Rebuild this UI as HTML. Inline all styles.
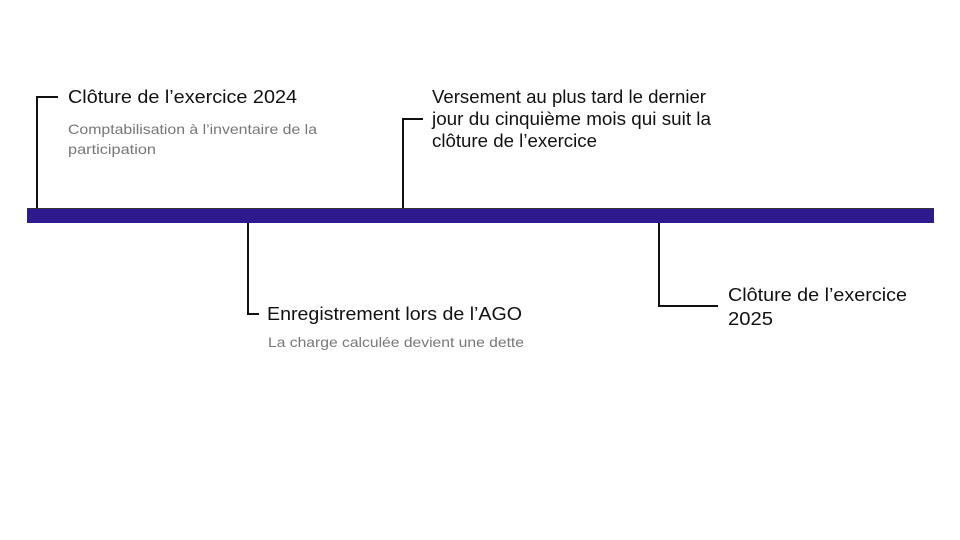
<!DOCTYPE html>
<html><head><meta charset="utf-8"><style>
html,body{margin:0;padding:0;background:#fff;}
svg{display:block;}
.t{font-family:"Liberation Sans",sans-serif;font-size:18px;fill:#111;}
.s{font-family:"Liberation Sans",sans-serif;font-size:14px;fill:#777;}
</style></head><body>
<svg width="960" height="540" viewBox="0 0 960 540" xmlns="http://www.w3.org/2000/svg">
<rect x="27" y="208" width="907" height="15" fill="#2e1a8e"/>
<line x1="27" y1="208.5" x2="934" y2="208.5" stroke="#333" stroke-width="1"/>
<g fill="none" stroke="#111" stroke-width="2">
<polyline points="37,208 37,97 58,97"/>
<polyline points="403,208 403,119 423,119"/>
<polyline points="248,223 248,314 259,314"/>
<polyline points="659,223 659,306 718,306"/>
</g>
<text class="t" x="68" y="103" textLength="229" lengthAdjust="spacingAndGlyphs">Clôture de l’exercice 2024</text>
<text class="s" x="68" y="134" textLength="249" lengthAdjust="spacingAndGlyphs">Comptabilisation à l’inventaire de la</text>
<text class="s" x="68" y="154" textLength="88" lengthAdjust="spacingAndGlyphs">participation</text>
<text class="t" x="432" y="103" textLength="274" lengthAdjust="spacingAndGlyphs">Versement au plus tard le dernier</text>
<text class="t" x="432" y="125" textLength="279" lengthAdjust="spacingAndGlyphs">jour du cinquième mois qui suit la</text>
<text class="t" x="432" y="147" textLength="165" lengthAdjust="spacingAndGlyphs">clôture de l’exercice</text>
<text class="t" x="267" y="320" textLength="255" lengthAdjust="spacingAndGlyphs">Enregistrement lors de l’AGO</text>
<text class="s" x="268" y="347" textLength="256" lengthAdjust="spacingAndGlyphs">La charge calculée devient une dette</text>
<text class="t" x="728" y="301" textLength="179" lengthAdjust="spacingAndGlyphs">Clôture de l’exercice</text>
<text class="t" x="728" y="325" textLength="45" lengthAdjust="spacingAndGlyphs">2025</text>
</svg>
</body></html>
